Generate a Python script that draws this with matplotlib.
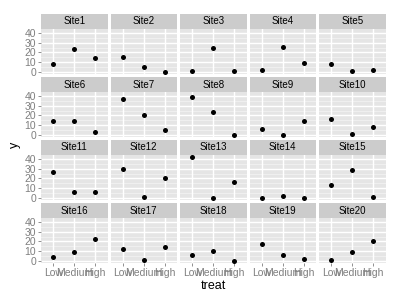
import numpy as np
import matplotlib
matplotlib.use("Agg")
import matplotlib.pyplot as plt

plt.rcParams['font.family'] = ['Liberation Sans', 'DejaVu Sans']

# values, one list per treatment level
sites = ["Site%d" % i for i in range(1, 21)]
treat = ["Low", "Medium", "High"]
low = [8, 15, 1, 1.5, 8, 14, 36.5, 39, 6, 16,
       27, 30, 42, 0, 13, 4, 12, 6, 17, 1]
medium = [24, 5, 25, 25.5, 1, 14, 21, 24, 0.3, 1.4,
          6, 1, 0, 2.4, 29, 9, 1, 10, 6.5, 9]
high = [14, 0, 1, 9, 2, 3, 5, 0, 14.5, 8.5,
        6, 20, 16, 0, 1, 22.5, 14.5, 0.3, 2, 20]
yticks = [0, 10, 20, 30, 40]

W, H = 400, 300
fig = plt.figure(figsize=(4, 3), dpi=100)

ymin, ymax = 0, max(low + medium + high)
pad = 0.05 * (ymax - ymin)

col_left = [41, 110.5, 180, 249.5, 319]
pw, ph, sh = 66.5, 45, 15
top0, step = 14, 63

for i, s in enumerate(sites):
    r, c = divmod(i, 5)
    top = top0 + r * step
    # strip
    sax = fig.add_axes([col_left[c] / W, 1 - (top + sh) / H, pw / W, sh / H])
    sax.set_facecolor("#cccccc")
    sax.set_xticks([]); sax.set_yticks([])
    for sp in sax.spines.values():
        sp.set_visible(False)
    sax.text(0.5, 0.5, s, ha="center", va="center", fontsize=7, transform=sax.transAxes)

    ax = fig.add_axes([col_left[c] / W, 1 - (top + sh + ph) / H, pw / W, ph / H])
    ax.set_facecolor("#e5e5e5")
    for sp in ax.spines.values():
        sp.set_visible(False)
    ax.set_xlim(0.4, 3.6)
    ax.set_ylim(ymin - pad, ymax + pad)
    for m in [5, 15, 25, 35]:
        ax.axhline(m, color="#f2f2f2", lw=0.6, zorder=0)
    for m in yticks:
        ax.axhline(m, color="white", lw=1.0, zorder=1)
    for m in [1, 2, 3]:
        ax.axvline(m, color="white", lw=1.0, zorder=1)
    ax.scatter([1, 2, 3], [low[i], medium[i], high[i]], s=13, color="black", zorder=3, linewidths=0)

    ax.set_yticks(yticks)
    ax.set_xticks([1, 2, 3])
    ax.tick_params(colors="#7f7f7f", labelcolor="#7f7f7f", labelsize=7.5, length=2.5, width=0.6, pad=1)
    if c == 0:
        ax.set_yticklabels([str(v) for v in yticks])
    else:
        ax.tick_params(axis="y", length=0, labelleft=False)
    if r == 3:
        ax.set_xticklabels(treat)
    else:
        ax.tick_params(axis="x", length=0, labelbottom=False)

fig.text(213 / W, 1 - 286 / H, "treat", ha="center", va="center", fontsize=9)
fig.text(15 / W, 1 - 145 / H, "y", ha="center", va="center", fontsize=9, rotation=90)

fig.savefig("out.png", dpi=100)
